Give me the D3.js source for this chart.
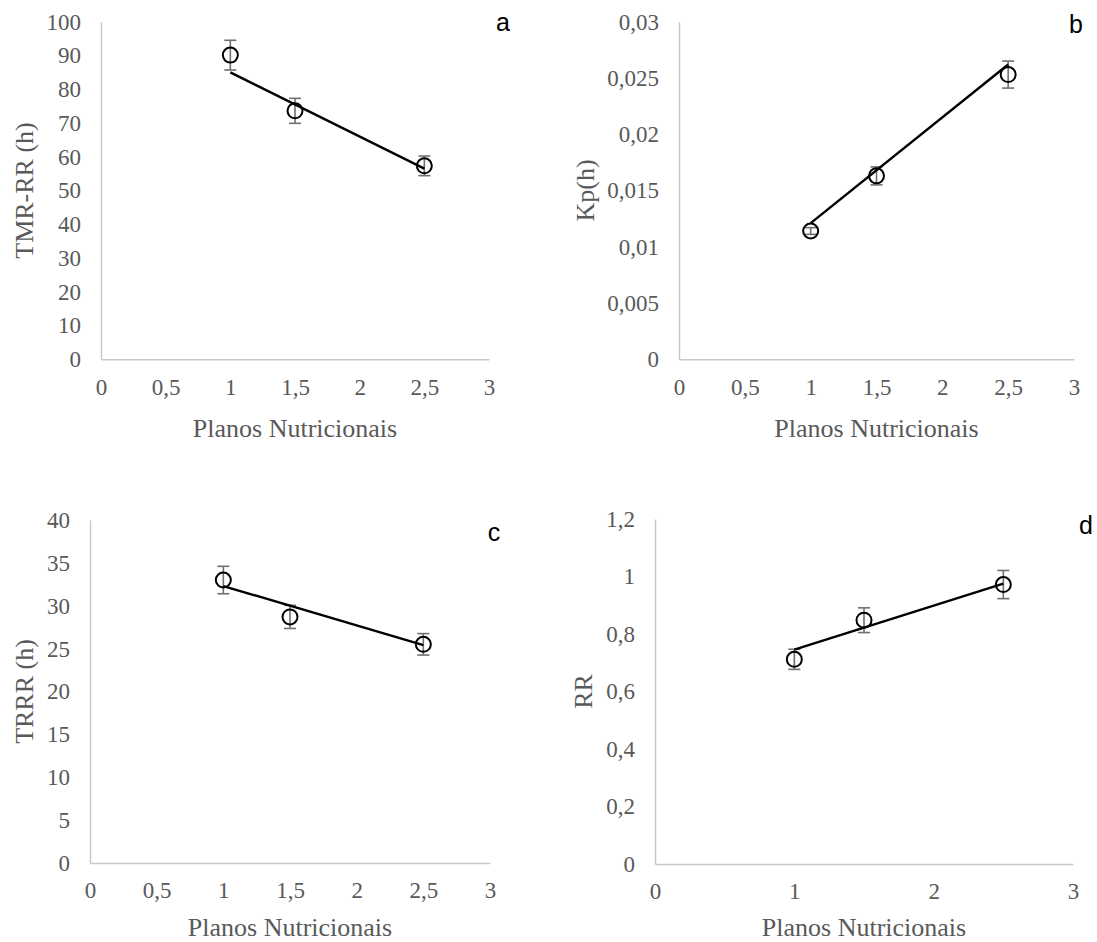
<!DOCTYPE html>
<html>
<head>
<meta charset="utf-8">
<script src="https://cdn.jsdelivr.net/npm/d3@7"></script>
<style>
	html, body { margin: 0; padding: 0; background: #fff; }
	svg { display: block; }
</style>
</head>
<body>
<svg id="chart" width="1097" height="942"></svg>
<script>
(function (d3) {
	"use strict";

	/***** Data *****/
	// x positions (Planos Nutricionais)
	const planos = [1, 1.5, 2.5];
	const trendX = [1, 2.5];

	// a - TMR-RR (h)
	const tmrValues = [90.1, 73.6, 57.3];
	const tmrErrors = [4.4, 3.7, 2.9];
	const tmrTrend = [85, 56.5];
	const tmrTicks = [0, 10, 20, 30, 40, 50, 60, 70, 80, 90, 100];

	// b - Kp(h)
	const kpValues = [0.0114, 0.0163, 0.0253];
	const kpErrors = [0.0003, 0.0008, 0.0012];
	const kpTrend = [0.0121, 0.0262];
	const kpTicks = [0, 0.005, 0.01, 0.015, 0.02, 0.025, 0.03];

	// c - TRRR (h)
	const trrrValues = [33.0, 28.7, 25.5];
	const trrrErrors = [1.6, 1.35, 1.25];
	const trrrTrend = [32.3, 25.4];
	const trrrTicks = [0, 5, 10, 15, 20, 25, 30, 35, 40];

	// d - RR
	const rrValues = [0.712, 0.848, 0.972];
	const rrErrors = [0.035, 0.043, 0.049];
	const rrTrend = [0.746, 0.975];
	const rrTicks = [0, 0.2, 0.4, 0.6, 0.8, 1, 1.2];

	// x ticks
	const xTicksHalf = [0, 0.5, 1, 1.5, 2, 2.5, 3];
	const xTicksUnit = [0, 1, 2, 3];

	const xTitle = "Planos Nutricionais";

	/***** Styles *****/
	const serif = "'Liberation Serif', 'Times New Roman', 'DejaVu Serif', serif";
	const sans = "'Liberation Sans', Arial, sans-serif";
	const textGray = "#595959";

	/***** Panels (layout) *****/
	var panels = [
		{ letter: "a", yTitle: "TMR-RR (h)", values: tmrValues, errors: tmrErrors, trend: tmrTrend,
		  yTicks: tmrTicks, xTicks: xTicksHalf,
		  left: 101, right: 489, top: 21.7, bottom: 359.3, yTitleX: 24, xTitleY: 428, letterX: 503, letterY: 22 },
		{ letter: "b", yTitle: "Kp(h)", values: kpValues, errors: kpErrors, trend: kpTrend,
		  yTicks: kpTicks, xTicks: xTicksHalf,
		  left: 679, right: 1074, top: 21.7, bottom: 359.3, yTitleX: 585, xTitleY: 428, letterX: 1076, letterY: 24 },
		{ letter: "c", yTitle: "TRRR (h)", values: trrrValues, errors: trrrErrors, trend: trrrTrend,
		  yTicks: trrrTicks, xTicks: xTicksHalf,
		  left: 90, right: 490, top: 520, bottom: 863, yTitleX: 24, xTitleY: 927, letterX: 494, letterY: 532 },
		{ letter: "d", yTitle: "RR", values: rrValues, errors: rrErrors, trend: rrTrend,
		  yTicks: rrTicks, xTicks: xTicksUnit,
		  left: 655, right: 1073, top: 519, bottom: 864, yTitleX: 583, xTitleY: 927, letterX: 1086, letterY: 525 }
	];

	// comma as decimal separator
	function fmt(v) {
		return String(v).replace(".", ",");
	}

	var svg = d3.select("#chart");

	panels.forEach(function (p) {
		var g = svg.append("g");

		var x = d3.scaleLinear().domain([0, 3]).range([p.left, p.right]);
		var y = d3.scaleLinear().domain([0, d3.max(p.yTicks)]).range([p.bottom, p.top]);

		// Axes
		var yAxis = g.append("g")
			.attr("transform", "translate(" + p.left + ",0)")
			.call(d3.axisLeft(y).tickValues(p.yTicks).tickFormat(fmt).tickSize(0).tickPadding(20));

		var xAxis = g.append("g")
			.attr("transform", "translate(0," + p.bottom + ")")
			.call(d3.axisBottom(x).tickValues(p.xTicks).tickFormat(fmt).tickSize(0).tickPadding(19));

		[yAxis, xAxis].forEach(function (a) {
			a.select(".domain").attr("stroke", "#c9c9c9").attr("stroke-width", 1.5);
			a.selectAll(".tick text")
				.style("font-family", serif)
				.style("font-size", "23px")
				.style("fill", textGray);
		});

		// Titles
		g.append("text")
			.attr("x", (p.left + p.right) / 2)
			.attr("y", p.xTitleY)
			.attr("dy", "0.33em")
			.attr("text-anchor", "middle")
			.style("font-family", serif)
			.style("font-size", "26px")
			.style("fill", textGray)
			.text(xTitle);

		g.append("text")
			.attr("transform", "translate(" + p.yTitleX + "," + ((p.top + p.bottom) / 2) + ") rotate(-90)")
			.attr("dy", "0.33em")
			.attr("text-anchor", "middle")
			.style("font-family", serif)
			.style("font-size", "26px")
			.style("fill", textGray)
			.text(p.yTitle);

		g.append("text")
			.attr("x", p.letterX)
			.attr("y", p.letterY)
			.attr("dy", "0.35em")
			.attr("text-anchor", "middle")
			.style("font-family", sans)
			.style("font-size", "25px")
			.style("fill", "#000")
			.text(p.letter);

		var pts = planos.map(function (px, i) {
			return { x: px, v: p.values[i], e: p.errors[i] };
		});

		// Error bars
		var eb = g.append("g")
			.attr("stroke", "#707070")
			.attr("stroke-width", 1.6)
			.attr("fill", "none");

		eb.selectAll("line.bar").data(pts).enter().append("line")
			.attr("x1", function (d) { return x(d.x); })
			.attr("x2", function (d) { return x(d.x); })
			.attr("y1", function (d) { return y(d.v + d.e); })
			.attr("y2", function (d) { return y(d.v - d.e); });

		eb.selectAll("line.capTop").data(pts).enter().append("line")
			.attr("x1", function (d) { return x(d.x) - 6; })
			.attr("x2", function (d) { return x(d.x) + 6; })
			.attr("y1", function (d) { return y(d.v + d.e); })
			.attr("y2", function (d) { return y(d.v + d.e); });

		eb.selectAll("line.capBottom").data(pts).enter().append("line")
			.attr("x1", function (d) { return x(d.x) - 6; })
			.attr("x2", function (d) { return x(d.x) + 6; })
			.attr("y1", function (d) { return y(d.v - d.e); })
			.attr("y2", function (d) { return y(d.v - d.e); });

		// Trend line
		var line = d3.line()
			.x(function (d) { return x(d[0]); })
			.y(function (d) { return y(d[1]); });

		g.append("path")
			.datum(trendX.map(function (tx, i) { return [tx, p.trend[i]]; }))
			.attr("d", line)
			.attr("fill", "none")
			.attr("stroke", "#000")
			.attr("stroke-width", 2.4);

		// Markers
		g.selectAll("circle").data(pts).enter().append("circle")
			.attr("cx", function (d) { return x(d.x); })
			.attr("cy", function (d) { return y(d.v); })
			.attr("r", 7.5)
			.attr("fill", "none")
			.attr("stroke", "#000")
			.attr("stroke-width", 2);
	});

})(d3);
</script>
</body>
</html>
